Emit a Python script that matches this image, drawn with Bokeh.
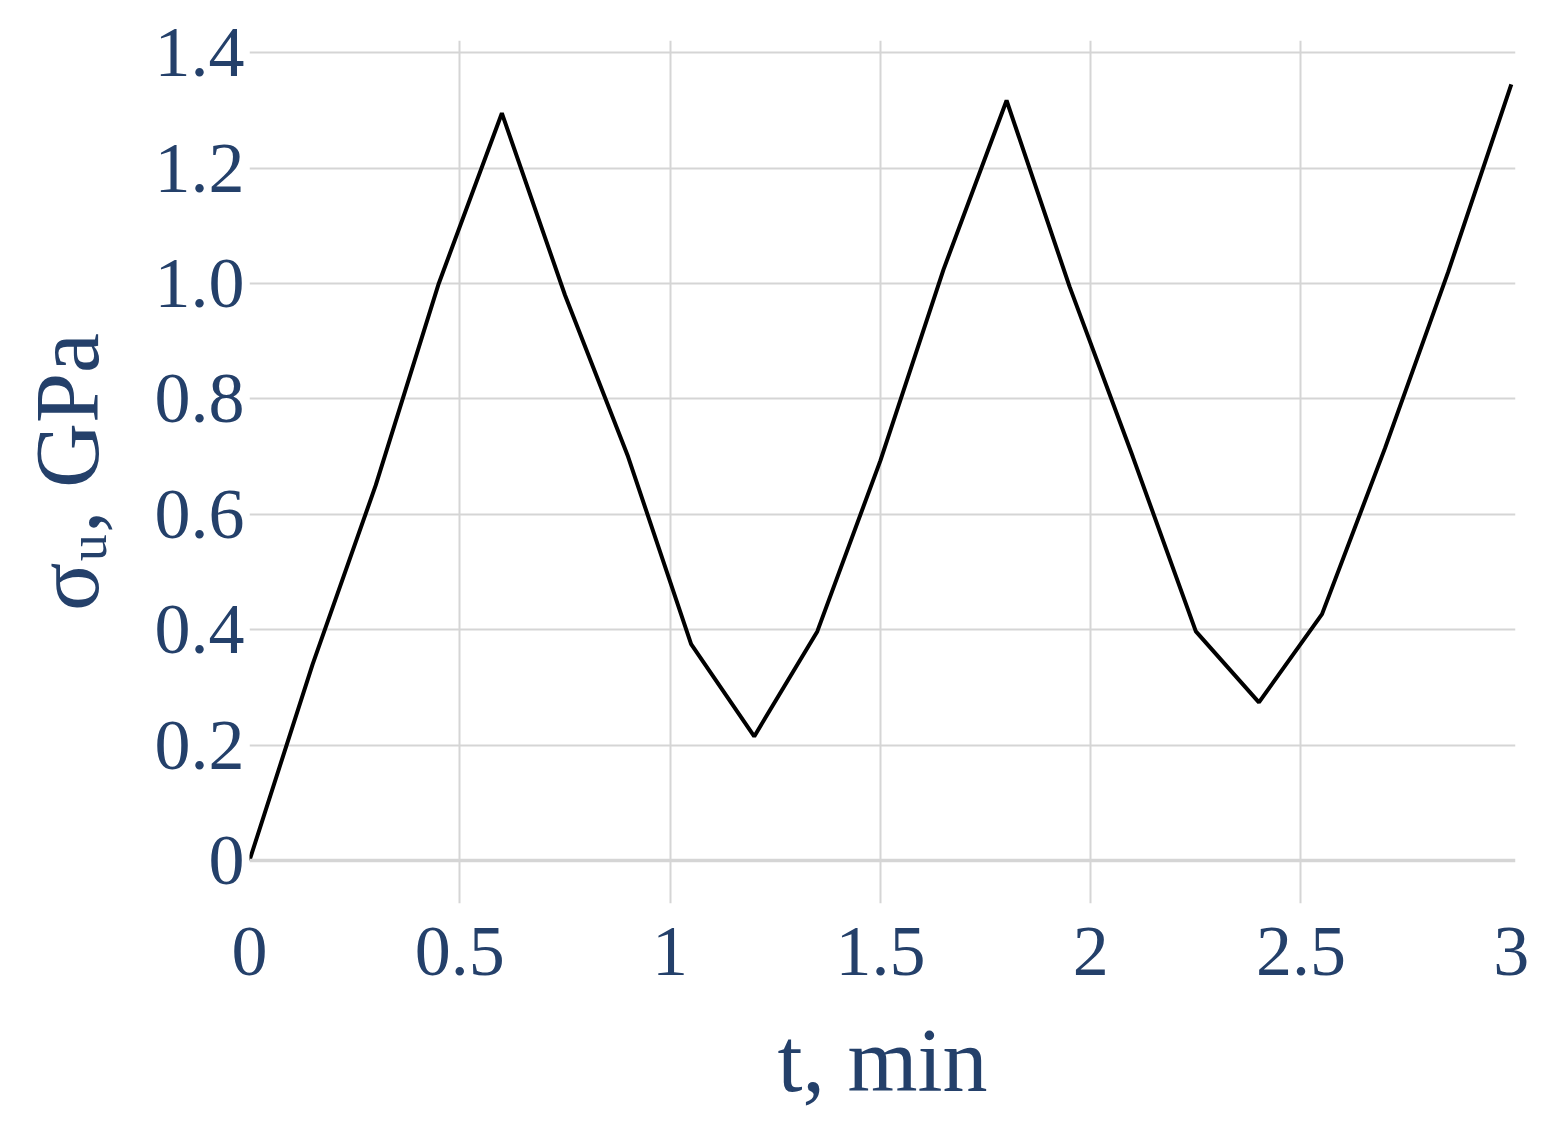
from bokeh.plotting import figure
from bokeh.models import FixedTicker, Span, Range1d
from bokeh.embed import file_html
from bokeh.resources import INLINE

# ---- data ----
t_min = [0, 0.15, 0.3, 0.45, 0.6, 0.75, 0.9, 1.05, 1.2, 1.35, 1.5,
         1.65, 1.8, 1.95, 2.1, 2.25, 2.4, 2.55, 2.7, 2.85, 3.0]
sigma_u = [0, 0.34, 0.65, 1.0, 1.295, 0.98, 0.70, 0.375, 0.215, 0.397, 0.693,
           1.024, 1.317, 0.994, 0.70, 0.397, 0.274, 0.427, 0.715, 1.02, 1.345]

x_ticks = [0, 0.5, 1, 1.5, 2, 2.5, 3]
x_tick_labels = ["0", "0.5", "1", "1.5", "2", "2.5", "3"]
y_ticks = [0, 0.2, 0.4, 0.6, 0.8, 1.0, 1.2, 1.4]
y_tick_labels = ["0", "0.2", "0.4", "0.6", "0.8", "1.0", "1.2", "1.4"]
x_title = "t, min"
y_title = "σᵤ, GPa"

FONT = "Liberation Serif"
TXT = "#24406a"
GRID = "#d5d5d5"

X0, X1 = 0.0, 3.01
Y0, Y1 = -0.0745, 1.421

W, H = 1540, 1114
FL, FT = 249, 40
FR = W - 1515
FB = H - 903

p = figure(width=W, height=H, output_backend="svg", toolbar_location=None,
           x_range=Range1d(X0, X1), y_range=Range1d(Y0, Y1),
           min_border_left=FL, min_border_top=FT, min_border_right=FR,
           min_border_bottom=FB)
p.outline_line_color = None
p.background_fill_color = "white"
p.border_fill_color = "white"

# grids
p.xgrid.ticker = FixedTicker(ticks=x_ticks[1:-1])
p.ygrid.ticker = FixedTicker(ticks=y_ticks[1:])
for g in (p.xgrid, p.ygrid):
    g.grid_line_color = GRID
    g.grid_line_width = 2
p.add_layout(Span(location=0, dimension="width", line_color=GRID, line_width=3.5))

# axes
for ax in (p.xaxis, p.yaxis):
    ax.axis_line_color = None
    ax.major_tick_line_color = None
    ax.minor_tick_line_color = None
    ax.major_tick_out = 0
    ax.major_tick_in = 0
    ax.major_label_text_font = FONT
    ax.major_label_text_color = TXT
    ax.major_label_text_font_size = "72px"
    ax.axis_label_text_font = FONT
    ax.axis_label_text_font_style = "normal"
    ax.axis_label_text_color = TXT
    ax.axis_label_text_font_size = "90px"

p.xaxis.ticker = FixedTicker(ticks=x_ticks)
p.xaxis.major_label_overrides = {v: s for v, s in zip(x_ticks, x_tick_labels)}
p.xaxis.major_label_standoff = 24
p.xaxis.axis_label = x_title
p.xaxis.axis_label_standoff = 33

p.yaxis.ticker = FixedTicker(ticks=y_ticks)
p.yaxis.major_label_overrides = {v: s for v, s in zip(y_ticks, y_tick_labels)}
p.yaxis.major_label_standoff = 5
p.yaxis.axis_label = y_title
p.yaxis.axis_label_standoff = 35

# line
p.line(t_min, sigma_u, line_color="black", line_width=4)

open("out.html", "w").write(file_html(p, INLINE))
